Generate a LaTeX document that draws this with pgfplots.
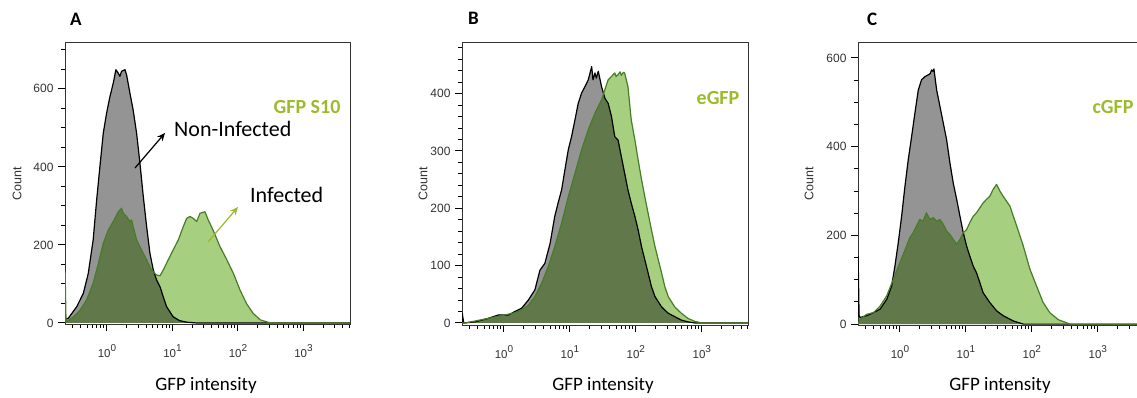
\documentclass[border=0pt]{standalone}
\usepackage{pgfplots}
\pgfplotsset{compat=1.18}
\usepackage{pgfplotstable}
\usepackage{fontspec}
\setmainfont{Carlito}
\newfontfamily\arial{Liberation Sans}
\usetikzlibrary{arrows.meta}

\definecolor{greyfill}{RGB}{148,148,148}
\definecolor{lgreen}{RGB}{166,208,128}
\definecolor{gline}{RGB}{70,125,38}
\definecolor{lblgreen}{RGB}{155,187,45}
\definecolor{ticklbl}{RGB}{50,50,50}

\newcommand{\ex}[1]{10\raisebox{6pt}{\fontsize{10}{11}\selectfont #1}}

% u = log10(GFP intensity), count
\pgfplotstableread{
u c
-0.64 0
-0.63 10
-0.59 12
-0.46 42
-0.36 76
-0.285 127
-0.21 213
-0.157 315
-0.107 401
-0.056 486
-0.005 538
0.046 580
0.097 615
0.137 649
0.173 640
0.198 632
0.224 645
0.275 649
0.30 636
0.351 589
0.40 546
0.453 486
0.504 409
0.555 324
0.606 247
0.656 179
0.707 136
0.758 110
0.81 93
0.86 67
0.91 42
1.01 16
1.11 6
1.22 2
1.37 0
3.71 0
}\Agrey
\pgfplotstableread{
u c
-0.64 0
-0.638 130
-0.625 10
-0.615 3
-0.51 16
-0.41 33
-0.31 59
-0.21 102
-0.13 153
-0.056 204
0.02 238
0.097 260
0.173 285
0.224 294
0.25 281
0.30 273
0.351 260
0.377 264
0.40 247
0.453 213
0.53 187
0.606 162
0.68 136
0.758 123
0.81 121
0.86 136
0.936 162
1.01 187
1.09 213
1.165 247
1.217 268
1.267 273
1.318 268
1.37 260
1.42 281
1.496 285
1.547 264
1.62 238
1.725 196
1.83 162
1.93 127
2.03 85
2.13 50
2.23 25
2.34 8
2.5 0
3.71 0
}\Agreen
\pgfplotstableread{
u c
-0.636 0
-0.632 17
-0.61 0
-0.44 2
-0.24 8
-0.086 14
0.066 14
0.167 20
0.27 26
0.37 40
0.47 58
0.545 92
0.62 104
0.70 139
0.77 186
0.82 209
0.874 232
0.924 267
0.975 302
1.025 325
1.076 354
1.126 383
1.177 401
1.227 412
1.278 424
1.33 447
1.35 424
1.38 436
1.40 427
1.43 439
1.48 412
1.53 392
1.58 383
1.63 360
1.68 325
1.73 319
1.78 290
1.83 261
1.88 232
1.93 209
1.985 186
2.035 162
2.086 133
2.136 110
2.186 87
2.237 63
2.29 46
2.39 28
2.49 17
2.59 11
2.69 5
2.79 2
2.9 0
3.70 0
}\Bgrey
\pgfplotstableread{
u c
-0.636 0
-0.59 0
-0.24 8
0.015 14
0.167 18
0.27 23
0.37 31
0.47 46
0.57 69
0.67 98
0.77 133
0.874 174
0.975 220
1.076 261
1.177 302
1.278 337
1.38 366
1.48 389
1.53 407
1.58 424
1.63 430
1.68 436
1.70 430
1.73 433
1.76 438
1.78 432
1.81 437
1.83 436
1.88 412
1.93 354
1.985 319
2.035 284
2.086 250
2.136 220
2.186 191
2.237 162
2.29 133
2.34 110
2.39 87
2.44 63
2.49 46
2.59 28
2.69 17
2.79 8
2.89 3
3.0 0
3.70 0
}\Bgreen
\pgfplotstableread{
u c
-0.636 0
-0.634 153
-0.62 20
-0.606 15
-0.505 19
-0.40 26
-0.30 34
-0.20 56
-0.126 86
-0.076 131
-0.025 184
0.025 243
0.076 311
0.126 371
0.177 423
0.227 476
0.278 528
0.328 551
0.379 558
0.43 562
0.46 565
0.48 573
0.50 570
0.515 575
0.556 528
0.606 491
0.657 453
0.707 416
0.758 363
0.808 318
0.86 281
0.91 243
0.96 206
1.01 176
1.06 153
1.11 131
1.16 116
1.21 94
1.26 71
1.36 49
1.465 30
1.565 19
1.72 7
1.87 0
3.70 0
}\Cgrey
\pgfplotstableread{
u c
-0.636 0
-0.62 5
-0.606 11
-0.505 22
-0.40 26
-0.30 41
-0.20 64
-0.10 101
0.0 139
0.10 176
0.15 195
0.20 206
0.25 221
0.30 236
0.35 232
0.40 251
0.455 236
0.505 240
0.556 232
0.606 236
0.657 225
0.707 210
0.758 202
0.808 191
0.86 180
0.91 191
0.96 206
1.01 213
1.06 229
1.11 243
1.16 251
1.21 262
1.26 273
1.31 281
1.36 288
1.41 303
1.465 315
1.515 300
1.565 288
1.667 266
1.77 221
1.87 176
1.97 124
2.07 86
2.17 49
2.27 26
2.40 10
2.58 0
3.70 0
}\Cgreen

\pgfplotsset{
  flowax/.style={
    scale only axis, anchor=south west,
    axis line style={draw=black!80, line width=0.9pt},
    tick pos=left, tick align=outside,
    major tick length=7pt, minor tick length=4pt,
    every tick/.style={black, line width=1pt},
    xtick={0,1,2,3},
    xticklabels={\ex{0},\ex{1},\ex{2},\ex{3}},
    minor xtick={-0.523,-0.398,-0.301,-0.222,-0.155,-0.097,-0.046,
      0.301,0.477,0.602,0.699,0.778,0.845,0.903,0.954,
      1.301,1.477,1.602,1.699,1.778,1.845,1.903,1.954,
      2.301,2.477,2.602,2.699,2.778,2.845,2.903,2.954,
      3.301,3.477,3.602,3.699},
    ticklabel style={font=\arial\fontsize{12}{13}\selectfont, text=ticklbl},
    xticklabel style={yshift=-10pt, font=\arial\fontsize{11.5}{13}\selectfont},
    yticklabel style={xshift=-1pt},
  },
  gfill/.style={fill=greyfill, draw=none},
  gnfill/.style={fill=lgreen, draw=none, blend mode=multiply},
  gline/.style={draw=black, line width=1.2pt, line join=round},
  gnline/.style={draw=gline, line width=1.2pt, line join=round},
}

\begin{document}
\begin{tikzpicture}[x=1pt,y=1pt]
% ---------- A ----------
\begin{axis}[flowax, at={(65pt,-324pt)}, width=285pt, height=282pt,
  xmin=-0.64, xmax=3.71, ymin=-2.6, ymax=720,
  ytick={0,200,400,600}, yticklabels={0,200,400,600},
  minor ytick={50,100,150,250,300,350,450,500,550,650,700}]
\addplot[gfill] table[x=u,y=c] {\Agrey} \closedcycle;
\addplot[gnfill] table[x=u,y=c] {\Agreen} \closedcycle;
\addplot[gline] table[x=u,y=c] {\Agrey};
\addplot[gnline] table[x=u,y=c] {\Agreen};
\end{axis}
% ---------- B ----------
\begin{axis}[flowax, at={(462pt,-325pt)}, width=286pt, height=283pt,
  xmin=-0.636, xmax=3.70, ymin=-3.5, ymax=490,
  ytick={0,100,200,300,400}, yticklabels={0,100,200,300,400},
  minor ytick={20,40,60,80,120,140,160,180,220,240,260,280,320,340,360,380,420,440,460,480}]
\addplot[gfill] table[x=u,y=c] {\Bgrey} \closedcycle;
\addplot[gnfill] table[x=u,y=c] {\Bgreen} \closedcycle;
\addplot[gline] table[x=u,y=c] {\Bgrey};
\addplot[gnline] table[x=u,y=c] {\Bgreen};
\end{axis}
% ---------- C ----------
\begin{axis}[flowax, at={(858pt,-325pt)}, width=286pt, height=283pt,
  xmin=-0.636, xmax=3.70, ymin=-2, ymax=636,
  ytick={0,200,400,600}, yticklabels={0,200,400,600},
  minor ytick={50,100,150,250,300,350,450,500,550}]
\addplot[gfill] table[x=u,y=c] {\Cgrey} \closedcycle;
\addplot[gnfill] table[x=u,y=c] {\Cgreen} \closedcycle;
\addplot[gline] table[x=u,y=c] {\Cgrey};
\addplot[gnline] table[x=u,y=c] {\Cgreen};
\end{axis}

% panel letters
\node[anchor=base west, inner sep=0pt, font=\bfseries\fontsize{19}{21}\selectfont] at (70,-26) {A};
\node[anchor=base west, inner sep=0pt, font=\bfseries\fontsize{19}{21}\selectfont] at (468,-25) {B};
\node[anchor=base west, inner sep=0pt, font=\bfseries\fontsize{19}{21}\selectfont] at (867,-26) {C};

% axis labels
\foreach \cx in {17,423,809}
  \node[rotate=90, font=\arial\fontsize{12.5}{14}\selectfont, text=ticklbl] at (\cx,-184) {Count};
\foreach \gx in {206,603,1000}
  \node[font=\fontsize{19}{22}\selectfont] at (\gx,-385) {GFP intensity};

% annotations
\node[font=\bfseries\fontsize{20}{24}\selectfont, text=lblgreen] at (307,-107) {GFP S10};
\node[font=\bfseries\fontsize{20}{24}\selectfont, text=lblgreen] at (718,-98) {eGFP};
\node[font=\bfseries\fontsize{20}{24}\selectfont, text=lblgreen] at (1113,-107) {cGFP};
\node[anchor=base west, inner sep=0pt, font=\fontsize{22}{26}\selectfont] at (174,-137) {Non-Infected};
\node[anchor=base west, inner sep=0pt, font=\fontsize{22}{26}\selectfont] at (250,-202) {Infected};
\draw[-{Stealth[length=8pt,width=7pt]}, line width=1.2pt, black] (135,-168) -- (165,-133);
\draw[-{Stealth[length=8pt,width=7pt]}, line width=1.2pt, lblgreen] (208,-242) -- (238,-207);

\pgfresetboundingbox
\path (0,0) rectangle (1137,-398);
\end{tikzpicture}
\end{document}
